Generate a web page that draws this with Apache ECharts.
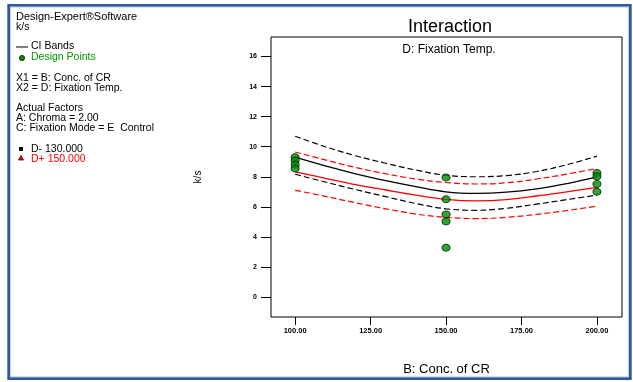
<!DOCTYPE html>
<html>
<head>
<meta charset="utf-8">
<script src="https://cdn.jsdelivr.net/npm/echarts@6/dist/echarts.min.js"></script>
<style>
  html, body { margin: 0; padding: 0; background: #fff; }
  #chart { width: 633px; height: 382px; }
</style>
</head>
<body>
<div id="chart"></div>
<script>
// B: Conc. of CR values where the curves were read
const concX = [100, 110, 120, 130, 140, 150, 160, 170, 180, 190, 200]

// D- 130.000 (black)
const dMinusMean  = [9.30, 8.72, 8.20, 7.75, 7.35, 7.00, 6.90, 6.98, 7.20, 7.55, 8.00]
const dMinusUpper = [10.70, 10.00, 9.40, 8.90, 8.45, 8.10, 8.00, 8.08, 8.35, 8.80, 9.37]
const dMinusLower = [8.17, 7.65, 7.15, 6.68, 6.22, 5.87, 5.77, 5.90, 6.18, 6.48, 6.78]

// D+ 150.000 (red)
const dPlusMean  = [8.33, 7.90, 7.48, 7.12, 6.78, 6.50, 6.40, 6.48, 6.72, 7.00, 7.29]
const dPlusUpper = [9.65, 9.12, 8.62, 8.20, 7.85, 7.62, 7.52, 7.60, 7.85, 8.18, 8.55]
const dPlusLower = [7.10, 6.70, 6.27, 5.87, 5.52, 5.30, 5.22, 5.30, 5.50, 5.75, 6.05]

// design points
const designX = [100, 100, 100, 100, 150, 150, 150, 150, 150, 200, 200, 200, 200]
const designY = [9.30, 9.08, 8.80, 8.55, 7.95, 6.50, 5.50, 5.03, 3.28, 8.25, 8.03, 7.52, 7.00]

const xTicks = [100, 125, 150, 175, 200]
const yTicks = [0, 2, 4, 6, 8, 10, 12, 14, 16]

const pairs = (xs, ys) => xs.map((x, i) => [x, ys[i]])

const txt = '"Liberation Sans", Arial, sans-serif'

function curve(name, ys, color, dashed){
  return {
    name: name,
    type: 'line',
    data: pairs(concX, ys),
    symbol: 'none',
    smooth: 0.4,
    silent: true,
    z: 2,
    lineStyle: {
      color: color,
      width: dashed ? 1.2 : 1.3,
      type: dashed ? [6, 3] : 'solid'
    }
  }
}

function legendText(x, y, text, color){
  return {
    type: 'text', left: x, top: y,
    style: {text: text, fill: color || '#000', font: '10.5px ' + txt}
  }
}

const chart = echarts.init(document.getElementById('chart'))
chart.setOption({
  animation: false,
  backgroundColor: '#fff',
  title: [
    {text: 'Interaction', left: 445, top: 13, textAlign: 'center',
     textStyle: {fontFamily: txt, fontSize: 18, fontWeight: 'normal', color: '#000'}},
    {text: 'D: Fixation Temp.', left: 444, top: 39, textAlign: 'center',
     textStyle: {fontFamily: txt, fontSize: 12, fontWeight: 'normal', color: '#000'}}
  ],
  grid: {
    left: 271, right: 11, top: 37, bottom: 65,
    show: true, borderColor: '#000', borderWidth: 1
  },
  xAxis: {
    type: 'value',
    min: 92, max: 208.3,
    name: 'B: Conc. of CR',
    nameLocation: 'middle',
    nameGap: 46,
    nameTextStyle: {fontFamily: txt, fontSize: 13, color: '#000'},
    axisLine: {show: false, onZero: false},
    splitLine: {show: false},
    axisTick: {show: true, length: 8, customValues: xTicks, lineStyle: {color: '#000'}},
    axisLabel: {
      customValues: xTicks, margin: 10,
      fontFamily: txt, fontSize: 7.5, fontWeight: 'bold', color: '#000',
      formatter: v => v.toFixed(2)
    }
  },
  yAxis: {
    type: 'value',
    min: -1.33, max: 17.3,
    name: 'k/s',
    nameLocation: 'middle',
    nameGap: 68,
    nameRotate: 90,
    nameTextStyle: {fontFamily: txt, fontSize: 10, color: '#000'},
    axisLine: {show: false, onZero: false},
    splitLine: {show: false},
    axisTick: {show: true, length: 10, customValues: yTicks, lineStyle: {color: '#000'}},
    axisLabel: {
      customValues: yTicks, margin: 14,
      fontFamily: txt, fontSize: 7, fontWeight: 'bold', color: '#000'
    }
  },
  series: [
    curve('D- upper', dMinusUpper, '#000', true),
    curve('D- lower', dMinusLower, '#000', true),
    curve('D- mean', dMinusMean, '#000', false),
    curve('D+ upper', dPlusUpper, '#ff0000', true),
    curve('D+ lower', dPlusLower, '#ff0000', true),
    curve('D+ mean', dPlusMean, '#ff0000', false),
    {
      name: 'Design Points',
      type: 'scatter',
      data: pairs(designX, designY),
      symbol: 'circle',
      symbolSize: [8, 7],
      z: 5,
      itemStyle: {color: '#008c00', borderColor: '#002200', borderWidth: 1}
    }
  ],
  graphic: [
    {type: 'rect', shape: {x: 8.7, y: 5.3, width: 621.6, height: 373.3}, silent: true,
     style: {fill: 'none', stroke: '#2d5a98', lineWidth: 2.8}},
    {type: 'rect', shape: {x: 10.6, y: 7.2, width: 617.8, height: 369.5}, silent: true,
     style: {fill: 'none', stroke: '#b8c8e0', lineWidth: 0.8}},
    {type: 'text', left: 16, top: 11,
     style: {text: 'Design-Expert\u00AESoftware', fill: '#000', font: '11px ' + txt}},
    legendText(16, 22, 'k/s'),
    {type: 'line', shape: {x1: 16, y1: 47, x2: 28, y2: 47}, style: {stroke: '#000', lineWidth: 1}},
    legendText(31, 41, 'CI Bands'),
    {type: 'circle', shape: {cx: 22, cy: 58, r: 2.6},
     style: {fill: '#008c00', stroke: '#002200', lineWidth: 0.8}},
    legendText(31, 52, 'Design Points', '#009900'),
    legendText(16, 73, 'X1 = B: Conc. of CR'),
    legendText(16, 83, 'X2 = D: Fixation Temp.'),
    legendText(16, 103, 'Actual Factors'),
    legendText(16, 113, 'A: Chroma = 2.00'),
    legendText(16, 123, 'C: Fixation Mode = E  Control'),
    {type: 'rect', shape: {x: 19, y: 147, width: 4, height: 4}, style: {fill: '#000'}},
    legendText(31, 144, 'D- 130.000'),
    {type: 'polygon', shape: {points: [[21, 155.5], [18.5, 160], [23.5, 160]]},
     style: {fill: '#ff0000', stroke: '#400000', lineWidth: 0.8}},
    legendText(31, 154, 'D+ 150.000', '#ff0000')
  ]
})
</script>
</body>
</html>
